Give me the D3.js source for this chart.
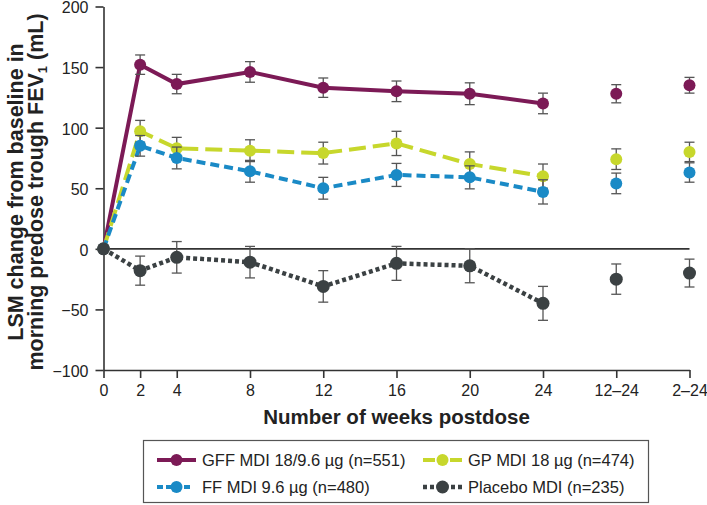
<!DOCTYPE html>
<html>
<head>
<meta charset="utf-8">
<script src="https://cdn.jsdelivr.net/npm/d3@7"></script>
<style>
  html, body { margin: 0; padding: 0; background: #fff; }
  svg { display: block; font-family: "Liberation Sans", Arial, sans-serif; }
</style>
</head>
<body>
<svg id="chart" width="707" height="505"></svg>
<script>
// ---- data ----
const tickLabels = ["0", "2", "4", "8", "12", "16", "20", "24", "12\u201324", "2\u201324"];
const weekPos = [0, 2, 4, 8, 12, 16, 20, 24, 28, 32];
const connectedCount = 8; // weeks 0..24 are joined by lines

const gff    = [0, 152, 136, 146, 133, 130, 128, 120, 128, 135];
const gffErr = [0, 8, 8, 8.5, 8, 8.5, 9, 8.5, 7.5, 6.5];
const gp     = [0, 97, 83, 81, 79, 87, 70, 60, 74, 80];
const gpErr  = [0, 9, 9, 9, 9, 10, 10, 10, 8.5, 8];
const ff     = [0, 85, 75, 64, 50, 61, 59, 47, 54, 63];
const ffErr  = [0, 8.5, 9, 9, 9, 9.5, 9.5, 10, 8.5, 8];
const pbo    = [0, -18, -7, -11, -31, -12, -14, -45, -25, -20];
const pboErr = [0, 12, 13, 13, 13, 14, 14, 14, 12.5, 11.5];

const yTicks = [-100, -50, 0, 50, 100, 150, 200];

const seriesNames = [
  "GFF MDI 18/9.6 \u00b5g (n=551)",
  "GP MDI 18 \u00b5g (n=474)",
  "FF MDI 9.6 \u00b5g (n=480)",
  "Placebo MDI (n=235)"
];

// ---- styles ----
const styles = [
  { color: "#7c1a56", dash: null,   width: 4,   r: 6 },
  { color: "#c7d72c", dash: "17,7", width: 4,   r: 6 },
  { color: "#1a8ac6", dash: "9,5",  width: 4,   r: 6 },
  { color: "#3b4143", dash: "4,3",  width: 4.5, r: 6.5 }
];
const seriesVals = [gff, gp, ff, pbo];
const seriesErrs = [gffErr, gpErr, ffErr, pboErr];

const svg = d3.select("#chart");
const axisColor = "#333";

const x = d3.scaleLinear().domain([0, 32]).range([103.5, 689.5]);
const y = d3.scaleLinear().domain([-100, 200]).range([370, 6.5]);

// axes
const gx = svg.append("g").attr("transform", `translate(0,${y(-100)})`)
  .call(d3.axisBottom(x).tickValues(weekPos).tickFormat((d, i) => tickLabels[i])
        .tickSize(8).tickPadding(7).tickSizeOuter(0));
const gy = svg.append("g").attr("transform", `translate(${x(0)},0)`)
  .call(d3.axisLeft(y).tickValues(yTicks).tickFormat(d => d < 0 ? "\u2212" + Math.abs(d) : d)
        .tickSize(8).tickPadding(7).tickSizeOuter(0));
[gx, gy].forEach(g => {
  g.select(".domain").attr("stroke", axisColor).attr("stroke-width", 1.6);
  g.selectAll(".tick line").attr("stroke", axisColor).attr("stroke-width", 1.6);
  g.selectAll(".tick text").attr("fill", "#222").style("font-size", "16px")
    .style("font-family", "'Liberation Sans', Arial, sans-serif");
});
gy.selectAll(".tick text").attr("dy", "0.4em");

// zero line
svg.append("line")
  .attr("x1", x(0)).attr("x2", x(32))
  .attr("y1", y(0)).attr("y2", y(0))
  .attr("stroke", axisColor).attr("stroke-width", 1.6);

// axis titles
svg.append("text")
  .attr("x", (x(0) + x(32)) / 2).attr("y", 423.5)
  .attr("text-anchor", "middle")
  .style("font-size", "20.5px").style("font-weight", "bold").attr("fill", "#222")
  .text("Number of weeks postdose");

const yt = svg.append("text")
  .attr("transform", `translate(0,192) rotate(-90)`)
  .attr("text-anchor", "middle")
  .style("font-size", "21.5px").style("font-weight", "bold").attr("fill", "#222");
yt.append("tspan").attr("x", 0).attr("y", 23).text("LSM change from baseline in");
yt.append("tspan").attr("x", 0).attr("y", 42.5).text("morning predose trough FEV");
yt.append("tspan").style("font-size", "13px").attr("dy", 4).text("1");
yt.append("tspan").attr("dy", -4).text(" (mL)");

// series
const plot = svg.append("g");
seriesVals.forEach((vals, si) => {
  const st = styles[si];
  const pts = vals.map((v, i) => ({ x: weekPos[i], y: v, e: seriesErrs[si][i] }));
  const line = d3.line().x(d => x(d.x)).y(d => y(d.y));
  const g = plot.append("g");
  g.append("path").datum(pts.slice(0, connectedCount))
    .attr("d", line).attr("fill", "none")
    .attr("stroke", st.color).attr("stroke-width", st.width)
    .attr("stroke-dasharray", st.dash);
  const eb = pts.filter(d => d.e > 0);
  g.selectAll(".eb").data(eb).join("line")
    .attr("x1", d => x(d.x)).attr("x2", d => x(d.x))
    .attr("y1", d => y(d.y - d.e)).attr("y2", d => y(d.y + d.e))
    .attr("stroke", "#555").attr("stroke-width", 1.3);
  ["cap1", "cap2"].forEach((c, k) => {
    g.selectAll("." + c).data(eb).join("line")
      .attr("x1", d => x(d.x) - 5).attr("x2", d => x(d.x) + 5)
      .attr("y1", d => y(d.y + (k ? -d.e : d.e))).attr("y2", d => y(d.y + (k ? -d.e : d.e)))
      .attr("stroke", "#555").attr("stroke-width", 1.3);
  });
  g.selectAll("circle").data(pts).join("circle")
    .attr("cx", d => x(d.x)).attr("cy", d => y(d.y)).attr("r", st.r)
    .attr("fill", st.color);
});

// legend
const lg = svg.append("g");
lg.append("rect").attr("x", 143.5).attr("y", 440.5).attr("width", 505).attr("height", 62)
  .attr("fill", "#fff").attr("stroke", "#555").attr("stroke-width", 1.2);
const legPos = [
  { lx: 157, cy: 460 }, { lx: 423, cy: 460 },
  { lx: 157, cy: 487 }, { lx: 423, cy: 487 }
];
seriesNames.forEach((name, si) => {
  const st = styles[si], p = legPos[si];
  const w = 39;
  let dash = st.dash;
  if (si === 1) dash = "12,15,12";
  if (si === 2) dash = "6,3,6,3,6,3,6";
  lg.append("line").attr("x1", p.lx).attr("x2", p.lx + w).attr("y1", p.cy).attr("y2", p.cy)
    .attr("stroke", st.color).attr("stroke-width", st.width).attr("stroke-dasharray", dash);
  lg.append("circle").attr("cx", p.lx + w / 2).attr("cy", p.cy).attr("r", st.r).attr("fill", st.color);
  lg.append("text").attr("x", p.lx + w + 6).attr("y", p.cy + 6)
    .style("font-size", "16.5px").attr("fill", "#222").text(name);
});
</script>
</body>
</html>
